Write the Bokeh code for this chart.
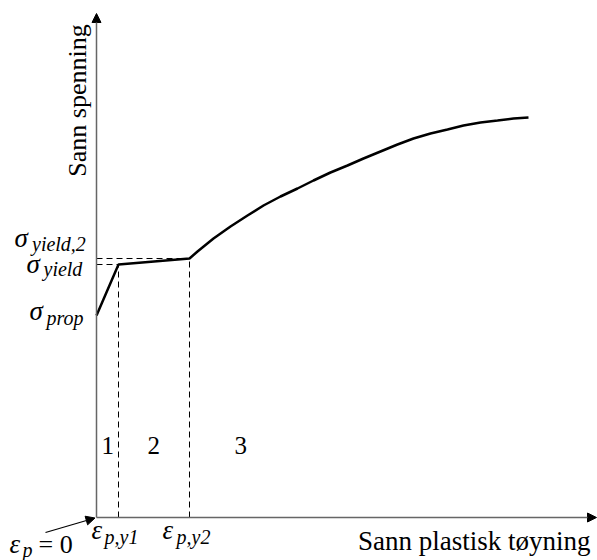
from bokeh.plotting import figure
from bokeh.models import Range1d, Arrow, NormalHead, ColumnDataSource
from bokeh.core.properties import value
from bokeh.embed import file_html
from bokeh.resources import INLINE

# Schematic true stress vs true plastic strain (arbitrary units)
strain = [0, 0.22, 0.93, 1.01, 1.17, 1.34, 1.51, 1.67, 1.84, 2.01, 2.17, 2.34, 2.51, 2.67,
          2.84, 3.01, 3.17, 3.34, 3.51, 3.67, 3.84, 4.01, 4.17, 4.32]
stress = [2.02, 2.53, 2.59, 2.66, 2.79, 2.91, 3.02, 3.12, 3.21, 3.29, 3.37, 3.45, 3.52, 3.59,
          3.66, 3.73, 3.79, 3.84, 3.88, 3.92, 3.95, 3.97, 3.99, 4.00]

eps_y1 = 0.22
eps_y2 = 0.93
sig_yield = 2.53
sig_yield2 = 2.59
sig_prop = 2.02

region_labels = ["1", "2", "3"]
x_label = "Sann plastisk tøyning"
y_label = "Sann spenning"

SERIF = value("Liberation Serif")

p = figure(width=597, height=560, output_backend="svg", toolbar_location=None,
           x_range=Range1d(-0.96, 5.01), y_range=Range1d(-0.43, 5.17),
           min_border=0, min_border_left=0, min_border_right=0,
           min_border_top=0, min_border_bottom=0)
p.axis.visible = False
p.grid.visible = False
p.outline_line_color = None
p.background_fill_color = "white"

# dashed helper lines
p.segment(x0=[0, 0, eps_y1, eps_y2], y0=[sig_yield, sig_yield2, 0, 0],
          x1=[eps_y1, eps_y2, eps_y1, eps_y2], y1=[sig_yield, sig_yield2, sig_yield, sig_yield2],
          line_color="black", line_width=1, line_dash="6 4")

# axes with arrows
p.add_layout(Arrow(x_start=0, y_start=0, x_end=0, y_end=5.04, line_color="#666666", line_width=1.5,
                   end=NormalHead(size=9, fill_color="black", line_color="black")))
p.add_layout(Arrow(x_start=0, y_start=0, x_end=5.0, y_end=0, line_color="#666666", line_width=1.5,
                   end=NormalHead(size=9, fill_color="black", line_color="black")))
# pointer to origin
p.add_layout(Arrow(x_start=-0.51, y_start=-0.15, x_end=-0.015, y_end=-0.005, line_color="black", line_width=1.3,
                   end=NormalHead(size=9, fill_color="black", line_color="black")))

# curve
p.line(strain, stress, line_color="black", line_width=2.5)

# region numbers
p.text(x=[0.05, 0.51, 1.38], y=[0.72, 0.72, 0.72], text=region_labels, text_font=SERIF,
       text_font_size="25px", text_align="left", text_baseline="middle", text_color="black")

# axis titles
p.text(x=[4.94], y=[-0.23], text=[x_label], text_font=SERIF, text_font_size="27px",
       text_align="right", text_baseline="middle", text_color="black")
p.text(x=[-0.19], y=[4.17], text=[y_label], angle=1.5708, text_font=SERIF, text_font_size="26px",
       text_align="center", text_baseline="middle", text_color="black")

# "= 0"
p.text(x=[-0.58], y=[-0.27], text=["= 0"], text_font=SERIF, text_font_size="26px",
       text_align="left", text_baseline="middle", text_color="black")

# symbols (italic greek)
sym = ColumnDataSource(dict(
    x=[-0.82, -0.70, -0.67, -0.05, 0.66, -0.87],
    y=[2.80, 2.54, 2.07, -0.12, -0.12, -0.26],
    t=["σ", "σ", "σ", "ε", "ε", "ε"],
))
p.text(x="x", y="y", text="t", source=sym, text_font=SERIF, text_font_size="27px",
       text_font_style="italic", text_align="left", text_baseline="middle", text_color="black")

# subscripts
sub = ColumnDataSource(dict(
    x=[-0.645, -0.53, -0.50, 0.08, 0.80, -0.74],
    y=[2.74, 2.49, 2.00, -0.19, -0.19, -0.325],
    t=["yield,2", "yield", "prop", "p,y1", "p,y2", "p"],
))
p.text(x="x", y="y", text="t", source=sub, text_font=SERIF, text_font_size="20px",
       text_font_style="italic", text_align="left", text_baseline="middle", text_color="black")

open("out.html", "w").write(file_html(p, INLINE))
